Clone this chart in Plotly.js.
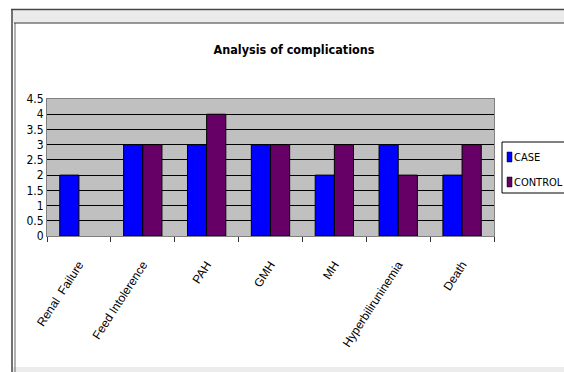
<!DOCTYPE html>
<html>
<head>
<meta charset="utf-8">
<script src="https://cdn.plot.ly/plotly-3.0.1.min.js"></script>
<style>
html,body{margin:0;padding:0;background:#fff;}
#chart{width:564px;height:372px;}
</style>
</head>
<body>
<div id="chart"></div>
<script>
var categories = ["Renal  Failure", "Feed Intolerence", "PAH", "GMH", "MH", "Hyperbiliruninemia", "Death"];
var caseValues = [2, 3, 3, 3, 2, 3, 2];
var controlValues = [0, 3, 4, 3, 3, 2, 3];
var seriesNames = ["CASE", "CONTROL"];
var seriesColors = ["#0000ff", "#660066"];
var yTickValues = [0, 0.5, 1, 1.5, 2, 2.5, 3, 3.5, 4, 4.5];
var yTickLabels = ["0", "0.5", "1", "1.5", "2", "2.5", "3", "3.5", "4", "4.5"];

var FONT = "Liberation Sans Narrow, DejaVu Sans Condensed, Arial Narrow, sans-serif";
var W = 564, H = 372;
var L = 47, R = 494, T = 99, B = 236;
function px(x){ return (x - L) / (R - L); }
function py(y){ return (B - y) / (B - T); }

var traces = [
  {type: "bar", name: seriesNames[0], x: categories, y: caseValues, showlegend: false,
   marker: {color: seriesColors[0], line: {color: "#000000", width: caseValues.map(function(v){ return v === 0 ? 0 : 1; })}}},
  {type: "bar", name: seriesNames[1], x: categories, y: controlValues, showlegend: false,
   marker: {color: seriesColors[1], line: {color: "#000000", width: controlValues.map(function(v){ return v === 0 ? 0 : 1; })}}}
];

var shapes = [
  // outer frame lines
  {type: "rect", xref: "paper", yref: "paper", x0: px(12.5), x1: px(564), y0: py(10.5), y1: py(22.5), fillcolor: "#ebebeb", line: {width: 0}, layer: "below"},
  {type: "rect", xref: "paper", yref: "paper", x0: px(12.5), x1: px(564), y0: py(367), y1: py(372), fillcolor: "#ececec", line: {width: 0}, layer: "below"},
  {type: "line", xref: "paper", yref: "paper", x0: px(12), x1: px(12), y0: py(9), y1: py(372), line: {color: "#444", width: 1.5}},
  {type: "line", xref: "paper", yref: "paper", x0: px(15), x1: px(15), y0: py(23), y1: py(372), line: {color: "#666", width: 1}},
  {type: "line", xref: "paper", yref: "paper", x0: px(11), x1: px(564), y0: py(9.5), y1: py(9.5), line: {color: "#444", width: 1.5}},
  {type: "line", xref: "paper", yref: "paper", x0: px(14), x1: px(564), y0: py(23), y1: py(23), line: {color: "#333", width: 1}},
  // legend box
  {type: "rect", xref: "paper", yref: "paper", x0: px(502), x1: px(600), y0: py(142), y1: py(193), fillcolor: "#ffffff", line: {color: "#000", width: 1}},
  {type: "rect", xref: "paper", yref: "paper", x0: px(507), x1: px(512), y0: py(152), y1: py(162), fillcolor: seriesColors[0], line: {color: "#000", width: 0.5}},
  {type: "rect", xref: "paper", yref: "paper", x0: px(507), x1: px(512), y0: py(177), y1: py(187), fillcolor: seriesColors[1], line: {color: "#000", width: 0.5}}
];

var annotations = [
  {xref: "paper", yref: "paper", x: px(512), y: py(157), xanchor: "left", yanchor: "middle", showarrow: false,
   text: seriesNames[0], font: {family: FONT, size: 11, color: "#000"}},
  {xref: "paper", yref: "paper", x: px(512), y: py(182), xanchor: "left", yanchor: "middle", showarrow: false,
   text: seriesNames[1], font: {family: FONT, size: 11, color: "#000"}}
];

var layout = {
  width: W, height: H,
  margin: {l: L, r: W - R, t: T, b: H - B, pad: 0},
  paper_bgcolor: "#ffffff",
  plot_bgcolor: "#c0c0c0",
  showlegend: false,
  barmode: "group",
  bargap: 0.4,
  bargroupgap: 0,
  title: {text: "<b>Analysis of complications</b>", x: 294 / W, xanchor: "center", y: 1 - 50 / H, yanchor: "middle",
          font: {family: FONT, size: 12.5, color: "#000"}},
  xaxis: {
    type: "category",
    tickangle: -57,
    tickson: "boundaries",
    ticks: "outside", ticklen: 5, tickcolor: "#333",
    showgrid: false,
    showline: true, linecolor: "#808080", linewidth: 1, mirror: true,
    tickfont: {family: "Liberation Sans, Arial, sans-serif", size: 12, color: "#000"},
    ticklabelstandoff: 16
  },
  yaxis: {
    range: [0, 4.5],
    tickvals: yTickValues, ticktext: yTickLabels,
    showgrid: true, gridcolor: "#000000", gridwidth: 1,
    zeroline: false,
    showline: true, linecolor: "#808080", linewidth: 1, mirror: true,
    ticks: "",
    tickfont: {family: FONT, size: 12, color: "#000"}
  },
  shapes: shapes,
  annotations: annotations
};

Plotly.newPlot("chart", traces, layout, {displayModeBar: false, staticPlot: true});
</script>
</body>
</html>
